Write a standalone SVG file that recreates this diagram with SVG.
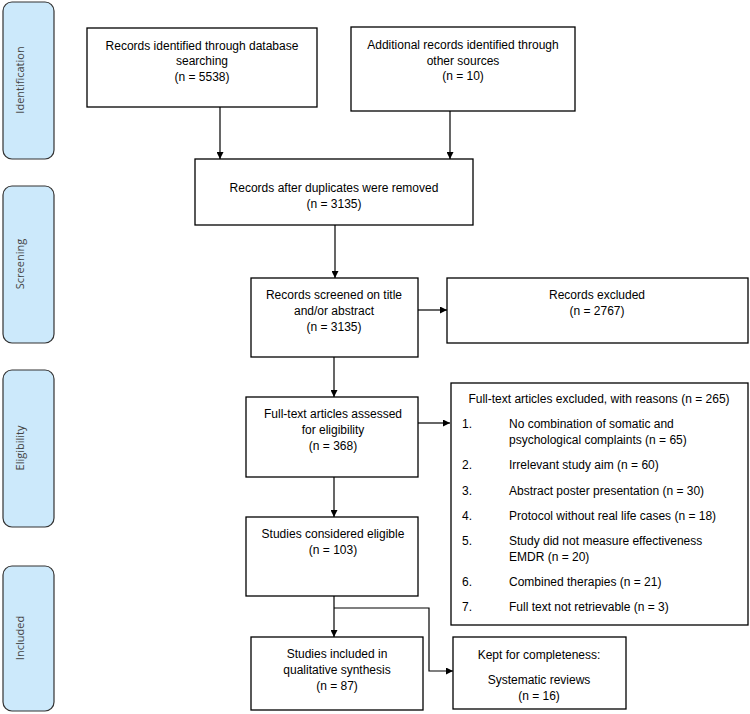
<svg xmlns="http://www.w3.org/2000/svg" width="750" height="714" viewBox="0 0 750 714">
<defs>
<marker id="ah" viewBox="0 0 10 10" refX="10" refY="5" markerWidth="7" markerHeight="7" orient="auto" markerUnits="userSpaceOnUse">
<path d="M0,0 L10,5 L0,10 z" fill="#000"/>
</marker>
<style>
.phase{fill:#cce9fb;stroke:#333;stroke-width:1.2}
.plab{font-family:"Open Sans","Noto Sans",sans-serif;font-size:11px;fill:#444;text-anchor:middle}
.box{fill:#fff;stroke:#000;stroke-width:1.3}
.t{font-family:"Liberation Sans",Arial,sans-serif;font-size:12px;fill:#000;text-anchor:middle}
.l{font-family:"Liberation Sans",Arial,sans-serif;font-size:12px;fill:#000}
.c{fill:none;stroke:#000;stroke-width:1.2}
</style>
</defs>
<rect width="750" height="714" fill="#fff"/>
<g id="phases">
<g id="phase-identification"><rect class="phase" x="3" y="2" width="51" height="157" rx="9"/><text class="plab" transform="translate(24,80) rotate(-90)">Identification</text></g>
<g id="phase-screening"><rect class="phase" x="3" y="186" width="51" height="157" rx="9"/><text class="plab" transform="translate(24,264) rotate(-90)">Screening</text></g>
<g id="phase-eligibility"><rect class="phase" x="3" y="370" width="51" height="157" rx="9"/><text class="plab" transform="translate(24,448) rotate(-90)">Eligibility</text></g>
<g id="phase-included"><rect class="phase" x="3" y="566" width="51" height="145" rx="9"/><text class="plab" transform="translate(24,638) rotate(-90)">Included</text></g>
</g>
<g id="connectors">
<line class="c" x1="220" y1="107" x2="220" y2="159" marker-end="url(#ah)"/>
<line class="c" x1="450" y1="111" x2="450" y2="159" marker-end="url(#ah)"/>
<line class="c" x1="335" y1="225" x2="335" y2="278" marker-end="url(#ah)"/>
<line class="c" x1="418" y1="310" x2="447" y2="310" marker-end="url(#ah)"/>
<line class="c" x1="334" y1="357" x2="334" y2="397" marker-end="url(#ah)"/>
<line class="c" x1="418" y1="423" x2="450" y2="423" marker-end="url(#ah)"/>
<line class="c" x1="334" y1="477" x2="334" y2="517" marker-end="url(#ah)"/>
<line class="c" x1="334" y1="596" x2="334" y2="637" marker-end="url(#ah)"/>
<polyline class="c" points="334,608 429,608 429,671 453,671" marker-end="url(#ah)"/>
</g>
<g id="n-database"><rect class="box" x="87" y="28" width="230" height="79"/>
<text class="t" x="202" y="50">Records identified through database</text>
<text class="t" x="202" y="65">searching</text>
<text class="t" x="202" y="81">(n = 5538)</text></g>
<g id="n-other"><rect class="box" x="351" y="27" width="224" height="84"/>
<text class="t" x="463" y="49">Additional records identified through</text>
<text class="t" x="463" y="65">other sources</text>
<text class="t" x="463" y="80">(n = 10)</text></g>
<g id="n-dupes"><rect class="box" x="195" y="159" width="278" height="66"/>
<text class="t" x="334" y="192">Records after duplicates were removed</text>
<text class="t" x="334" y="208">(n = 3135)</text></g>
<g id="n-screened"><rect class="box" x="251" y="278" width="167" height="79"/>
<text class="t" x="334" y="299">Records screened on title</text>
<text class="t" x="334" y="315">and/or abstract</text>
<text class="t" x="334" y="331">(n = 3135)</text></g>
<g id="n-excluded"><rect class="box" x="447" y="278" width="301" height="65"/>
<text class="t" x="597" y="299">Records excluded</text>
<text class="t" x="597" y="315">(n = 2767)</text></g>
<g id="n-fulltext"><rect class="box" x="246" y="397" width="172" height="80"/>
<text class="t" x="333" y="418">Full-text articles assessed</text>
<text class="t" x="333" y="434">for eligibility</text>
<text class="t" x="333" y="450">(n = 368)</text></g>
<g id="n-reasons"><rect class="box" x="451" y="383" width="297" height="242"/>
<text class="t" x="599" y="403">Full-text articles excluded, with reasons (n = 265)</text>
<text class="l" x="462" y="428">1.</text><text class="l" x="509" y="428">No combination of somatic and</text>
<text class="l" x="509" y="444">psychological complaints (n = 65)</text>
<text class="l" x="462" y="469">2.</text><text class="l" x="509" y="469">Irrelevant study aim (n = 60)</text>
<text class="l" x="462" y="495">3.</text><text class="l" x="509" y="495">Abstract poster presentation (n = 30)</text>
<text class="l" x="462" y="520">4.</text><text class="l" x="509" y="520">Protocol without real life cases (n = 18)</text>
<text class="l" x="462" y="545">5.</text><text class="l" x="509" y="545">Study did not measure effectiveness</text>
<text class="l" x="509" y="561">EMDR (n = 20)</text>
<text class="l" x="462" y="586">6.</text><text class="l" x="509" y="586">Combined therapies (n = 21)</text>
<text class="l" x="462" y="611">7.</text><text class="l" x="509" y="611">Full text not retrievable (n = 3)</text></g>
<g id="n-eligible"><rect class="box" x="246" y="517" width="172" height="79"/>
<text class="t" x="333" y="538">Studies considered eligible</text>
<text class="t" x="333" y="554">(n = 103)</text></g>
<g id="n-included"><rect class="box" x="251" y="637" width="172" height="73"/>
<text class="t" x="337" y="658">Studies included in</text>
<text class="t" x="337" y="674">qualitative synthesis</text>
<text class="t" x="337" y="690">(n = 87)</text></g>
<g id="n-kept"><rect class="box" x="453" y="637" width="173" height="72"/>
<text class="t" x="539" y="659">Kept for completeness:</text>
<text class="t" x="539" y="684">Systematic reviews</text>
<text class="t" x="539" y="700">(n = 16)</text></g>
</svg>
